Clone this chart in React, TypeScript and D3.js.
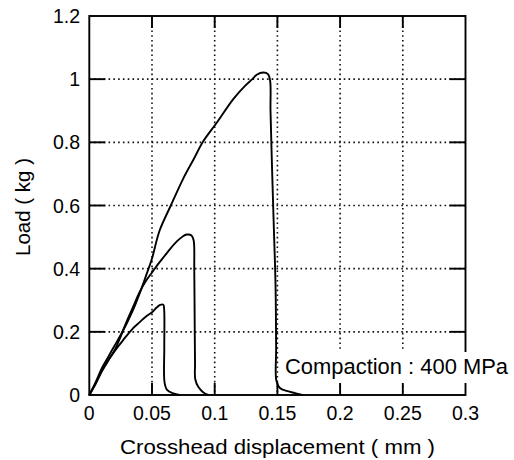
import React from "react";
import * as d3 from "d3";

const xTicks = [0, 0.05, 0.1, 0.15, 0.2, 0.25, 0.3];
const yTicks = [0, 0.2, 0.4, 0.6, 0.8, 1, 1.2];
const xTickLabels = ["0", "0.05", "0.1", "0.15", "0.2", "0.25", "0.3"];
const yTickLabels = ["0", "0.2", "0.4", "0.6", "0.8", "1", "1.2"];

// Load-displacement curves [displacement (mm), load (kg)]
const curveHigh: [number, number][] = [
  [0, 0], [0.005, 0.04], [0.01, 0.085], [0.015, 0.12], [0.02, 0.155], [0.025, 0.19], [0.03, 0.228],
  [0.035, 0.27], [0.04, 0.32], [0.045, 0.375], [0.05, 0.432], [0.056, 0.52], [0.065, 0.6],
  [0.075, 0.686], [0.083, 0.745], [0.091, 0.804], [0.1016, 0.862], [0.1148, 0.937], [0.124, 0.978],
  [0.13, 1.0], [0.1335, 1.014], [0.1388, 1.021], [0.1425, 1.016], [0.1442, 0.995], [0.1445, 0.9],
  [0.1455, 0.75], [0.147, 0.55], [0.1485, 0.35], [0.149, 0.15], [0.1492, 0.045], [0.152, 0.022],
  [0.158, 0.012], [0.164, 0.006], [0.17, 0],
];
const curveMid: [number, number][] = [
  [0, 0], [0.005, 0.035], [0.01, 0.075], [0.015, 0.108], [0.02, 0.14], [0.025, 0.185], [0.03, 0.235],
  [0.035, 0.28], [0.04, 0.325], [0.045, 0.36], [0.05, 0.388], [0.055, 0.415], [0.06, 0.44],
  [0.065, 0.465], [0.07, 0.487], [0.0745, 0.502], [0.0777, 0.508], [0.0815, 0.505], [0.0832, 0.49],
  [0.0837, 0.4], [0.084, 0.25], [0.0843, 0.1], [0.0845, 0.05], [0.087, 0.025], [0.091, 0.008],
  [0.095, 0],
];
const curveLow: [number, number][] = [
  [0, 0], [0.005, 0.037], [0.01, 0.077], [0.015, 0.11], [0.02, 0.138], [0.027, 0.174],
  [0.035, 0.212], [0.04, 0.23], [0.045, 0.248], [0.05, 0.262], [0.0535, 0.276], [0.0565, 0.285],
  [0.059, 0.286], [0.0597, 0.27], [0.0598, 0.15], [0.06, 0.04], [0.062, 0.016], [0.067, 0.005],
  [0.072, 0],
];
const curves = [curveHigh, curveMid, curveLow];

const gridX = [0.05, 0.1, 0.15, 0.2, 0.25];
const gridY = [0.2, 0.4, 0.6, 0.8, 1];

export default function App() {
  const W = 514, H = 460;
  const x = d3.scaleLinear().domain([0, 0.3]).range([89.3, 465.5]);
  const y = d3.scaleLinear().domain([0, 1.2]).range([395, 16]);
  const line = d3
    .line<[number, number]>()
    .x((d) => x(d[0]))
    .y((d) => y(d[1]))
    .curve(d3.curveCatmullRom.alpha(0.5));

  const x0 = x(0), x1 = x(0.3), yb = y(0), yt = y(1.2);
  const font = "'Liberation Sans', Arial, Helvetica, sans-serif";

  return (
    <svg
      width={W}
      height={H}
      style={{ position: "absolute", left: 0, top: 0, background: "#fff" }}
      fontFamily={font}
    >
      <rect x={0} y={0} width={W} height={H} fill="#fff" />
      {/* dotted grid */}
      <g stroke="#111" strokeWidth={1.6} strokeDasharray="1.6,3.2">
        {gridX.map((v) => (
          <line key={"gx" + v} x1={x(v)} x2={x(v)} y1={yt} y2={yb} />
        ))}
        {gridY.map((v) => (
          <line key={"gy" + v} x1={x0} x2={x1} y1={y(v)} y2={y(v)} />
        ))}
      </g>
      {/* curves */}
      <g fill="none" stroke="#000" strokeWidth={1.9} strokeLinejoin="round">
        {curves.map((c, i) => (
          <path key={i} d={line(c) || ""} />
        ))}
      </g>
      {/* frame */}
      <rect x={x0} y={yt} width={x1 - x0} height={yb - yt} fill="none" stroke="#000" strokeWidth={1.9} />
      {/* ticks */}
      <g stroke="#000" strokeWidth={1.9}>
        {gridY.map((v) => (
          <g key={"ty" + v}>
            <line x1={x0} x2={x0 + 16} y1={y(v)} y2={y(v)} />
            <line x1={x1 - 16} x2={x1} y1={y(v)} y2={y(v)} />
          </g>
        ))}
        {gridX.map((v) => (
          <g key={"tx" + v}>
            <line x1={x(v)} x2={x(v)} y1={yb} y2={yb - 12} />
            <line x1={x(v)} x2={x(v)} y1={yt} y2={yt + 12} />
          </g>
        ))}
      </g>
      {/* label box */}
      <rect x={282} y={352} width={232} height={31} fill="#fff" />
      <text x={285} y={374} fontSize={21.5} textLength={223} lengthAdjust="spacingAndGlyphs" fill="#000">
        Compaction : 400 MPa
      </text>
      {/* tick labels */}
      <g fontSize={19.5} fill="#000">
        {xTicks.map((v, i) => (
          <text key={"lx" + v} x={x(v)} y={420} textAnchor="middle">
            {xTickLabels[i]}
          </text>
        ))}
        {yTicks.map((v, i) => (
          <text key={"ly" + v} x={80} y={y(v)} dy="0.36em" textAnchor="end">
            {yTickLabels[i]}
          </text>
        ))}
      </g>
      <text x={120} y={454} fontSize={20.5} textLength={315} lengthAdjust="spacingAndGlyphs" fill="#000">
        Crosshead displacement ( mm )
      </text>
      <text
        transform={`translate(30,${207}) rotate(-90)`}
        textAnchor="middle"
        fontSize={20.5}
        fill="#000"
      >
        Load ( kg )
      </text>
    </svg>
  );
}
